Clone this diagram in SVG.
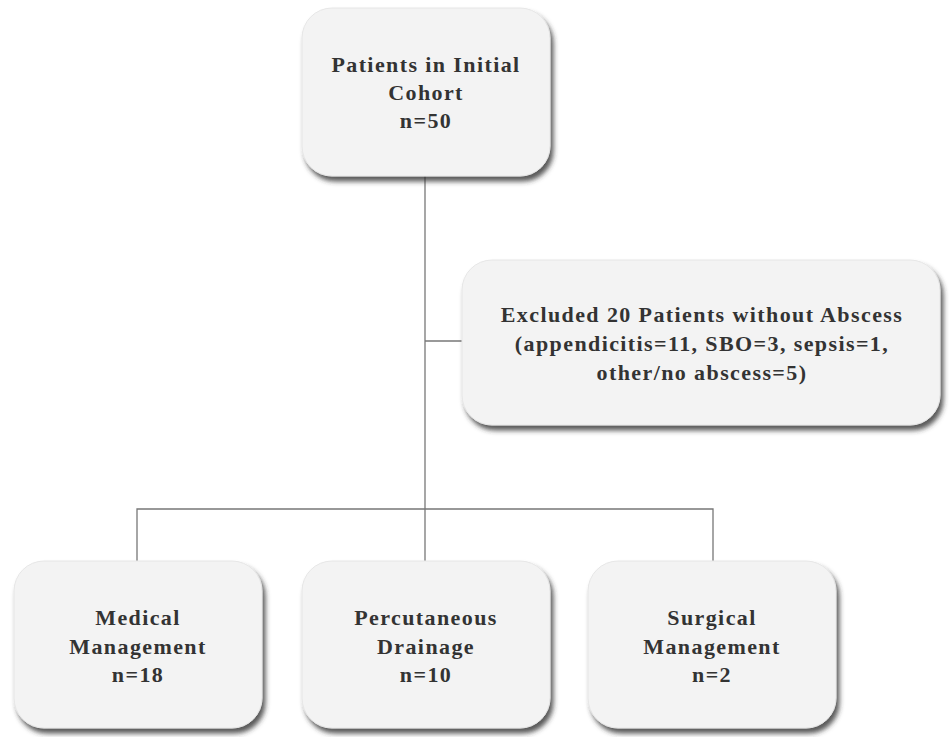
<svg xmlns="http://www.w3.org/2000/svg" width="949" height="737" viewBox="0 0 949 737">
<style>
.box{fill:#f3f3f3;stroke:#e6e6e6;stroke-width:1;filter:url(#sh)}
.t{font-family:"Liberation Serif","Times New Roman",serif;font-weight:bold;font-size:22px;fill:#333;text-anchor:middle;letter-spacing:1.4px}
.ln{stroke:#777;stroke-width:1.3;fill:none}
</style>
<defs>
<filter id="sh" x="-10%" y="-10%" width="125%" height="130%">
<feDropShadow dx="3" dy="5" stdDeviation="2.4" flood-color="#333" flood-opacity="0.8"/>
</filter>
</defs>
<rect width="949" height="737" fill="#fff"/>
<g id="connectors">
<path class="ln" d="M425 176 V509"/>
<path class="ln" d="M425 341 H462"/>
<path class="ln" d="M137 561 V509 H713 V561"/>
<path class="ln" d="M425 509 V561"/>
</g>
<g id="initial">
<rect class="box" x="302" y="8" width="248" height="168" rx="30"/>
<text class="t" x="426" y="72">Patients in Initial</text>
<text class="t" x="426" y="100">Cohort</text>
<text class="t" x="426" y="128">n=50</text>
</g>
<g id="excluded">
<rect class="box" x="462" y="260" width="478" height="165" rx="30"/>
<text class="t" x="702" y="322">Excluded 20 Patients without Abscess</text>
<text class="t" x="702" y="351">(appendicitis=11, SBO=3, sepsis=1,</text>
<text class="t" x="702" y="380">other/no abscess=5)</text>
</g>
<g id="medical">
<rect class="box" x="14" y="561" width="248" height="167" rx="30"/>
<text class="t" x="138" y="625">Medical</text>
<text class="t" x="138" y="654">Management</text>
<text class="t" x="138" y="682">n=18</text>
</g>
<g id="percutaneous">
<rect class="box" x="302" y="561" width="248" height="167" rx="30"/>
<text class="t" x="426" y="625">Percutaneous</text>
<text class="t" x="426" y="654">Drainage</text>
<text class="t" x="426" y="682">n=10</text>
</g>
<g id="surgical">
<rect class="box" x="588" y="561" width="248" height="167" rx="30"/>
<text class="t" x="712" y="625">Surgical</text>
<text class="t" x="712" y="654">Management</text>
<text class="t" x="712" y="682">n=2</text>
</g>
</svg>
